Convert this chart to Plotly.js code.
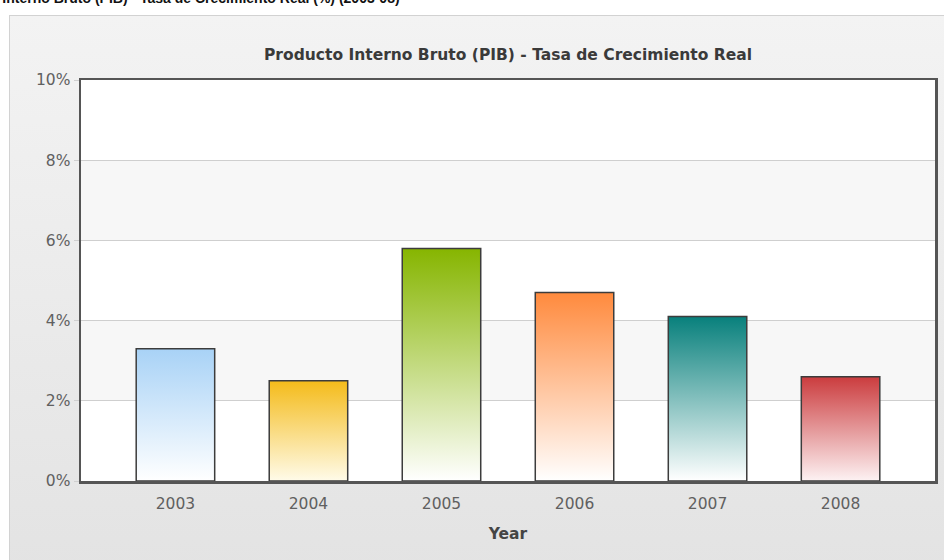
<!DOCTYPE html>
<html>
<head>
<meta charset="utf-8">
<script src="https://cdn.plot.ly/plotly-3.0.1.min.js"></script>
<style>
  html, body { margin: 0; padding: 0; background: #ffffff; overflow: hidden; }
  #panel { position: absolute; left: 9px; top: 15px; width: 960px; height: 560px;
           background: linear-gradient(#f3f3f3, #e3e3e3); border: 1px solid #d2d2d2; box-sizing: border-box; }
  #chart { position: absolute; left: 0; top: 0; width: 944px; height: 560px; }
</style>
</head>
<body>
<div id="panel"></div>
<div id="chart"></div>
<script>
// ---- data ----
const years = ['2003', '2004', '2005', '2006', '2007', '2008'];
const growth = [3.3, 2.5, 5.8, 4.7, 4.1, 2.6];
const topColors = ['#a8d2f6', '#f4bb1a', '#86b500', '#ff8a3d', '#08807c', '#cb3c3e'];
const bottomColors = ['#ffffff', '#fffbe9', '#ffffff', '#ffffff', '#ffffff', '#fdf2f3'];
const yTicks = [0, 2, 4, 6, 8, 10];
const bandRanges = [[2, 4], [6, 8]];
const pageTitle = 'Producto Interno Bruto (PIB) - Tasa de Crecimiento Real (%) (2003-08)';
const chartTitle = 'Producto Interno Bruto (PIB) - Tasa de Crecimiento Real';
const xTitle = 'Year';

const barWidth = 0.59;
const hw = barWidth / 2;

const traces = growth.map((v, i) => ({
  type: 'scatter',
  mode: 'lines',
  x: [i - hw, i - hw, i + hw, i + hw, i - hw],
  y: [0, v, v, 0, 0],
  fill: 'toself',
  fillgradient: { type: 'vertical', colorscale: [[0, bottomColors[i]], [1, topColors[i]]] },
  line: { color: '#3c3c3c', width: 1.5 },
  hoverinfo: 'skip',
  showlegend: false
}));

const shapes = bandRanges.map(r => ({
  type: 'rect', xref: 'paper', yref: 'y', x0: 0, x1: 1, y0: r[0], y1: r[1],
  fillcolor: '#f7f7f7', line: { width: 0 }, layer: 'below'
}));

const layout = {
  width: 944, height: 560,
  margin: { l: 81, r: 9, t: 80, b: 79 },
  paper_bgcolor: 'rgba(0,0,0,0)',
  plot_bgcolor: '#ffffff',
  font: { family: 'DejaVu Sans, Verdana, sans-serif', color: '#555555', size: 15 },
  title: {
    text: chartTitle,
    font: { family: 'DejaVu Sans, Verdana, sans-serif', size: 15.5, color: '#3a3a3a', weight: 'bold' },
    x: 0.5, xref: 'paper', xanchor: 'center',
    y: 1 - 55 / 560, yref: 'container', yanchor: 'middle'
  },
  xaxis: {
    range: [-0.71, years.length - 1 + 0.71],
    tickvals: years.map((_, i) => i),
    ticktext: years,
    showgrid: false, zeroline: false,
    showline: true, mirror: true, linecolor: '#555555', linewidth: 2.5,
    ticks: '', ticklabelstandoff: 7,
    tickfont: { size: 15.5, color: '#606060' },
    fixedrange: true,
    title: { text: xTitle, font: { size: 15.5, color: '#444444', weight: 'bold' }, standoff: 16 }
  },
  yaxis: {
    range: [0, 10],
    tickvals: yTicks,
    ticktext: yTicks.map(t => t + '%'),
    showgrid: true, gridcolor: '#cfcfcf', gridwidth: 1,
    zeroline: false,
    showline: true, mirror: true, linecolor: '#555555', linewidth: 2.5,
    ticks: 'outside', ticklen: 5, tickcolor: '#cfcfcf',
    tickfont: { size: 15.5, color: '#606060' },
    fixedrange: true
  },
  shapes: shapes,
  annotations: [{
    text: pageTitle, showarrow: false,
    xref: 'paper', yref: 'paper',
    x: (402 - 81) / 854, xanchor: 'right',
    y: 1 + (80 + 2) / 401, yanchor: 'middle',
    font: { family: 'Liberation Sans, Arial, sans-serif', size: 14, color: '#111111', weight: 'bold' }
  }]
};

Plotly.newPlot('chart', traces, layout, { displayModeBar: false, staticPlot: true });
</script>
</body>
</html>
